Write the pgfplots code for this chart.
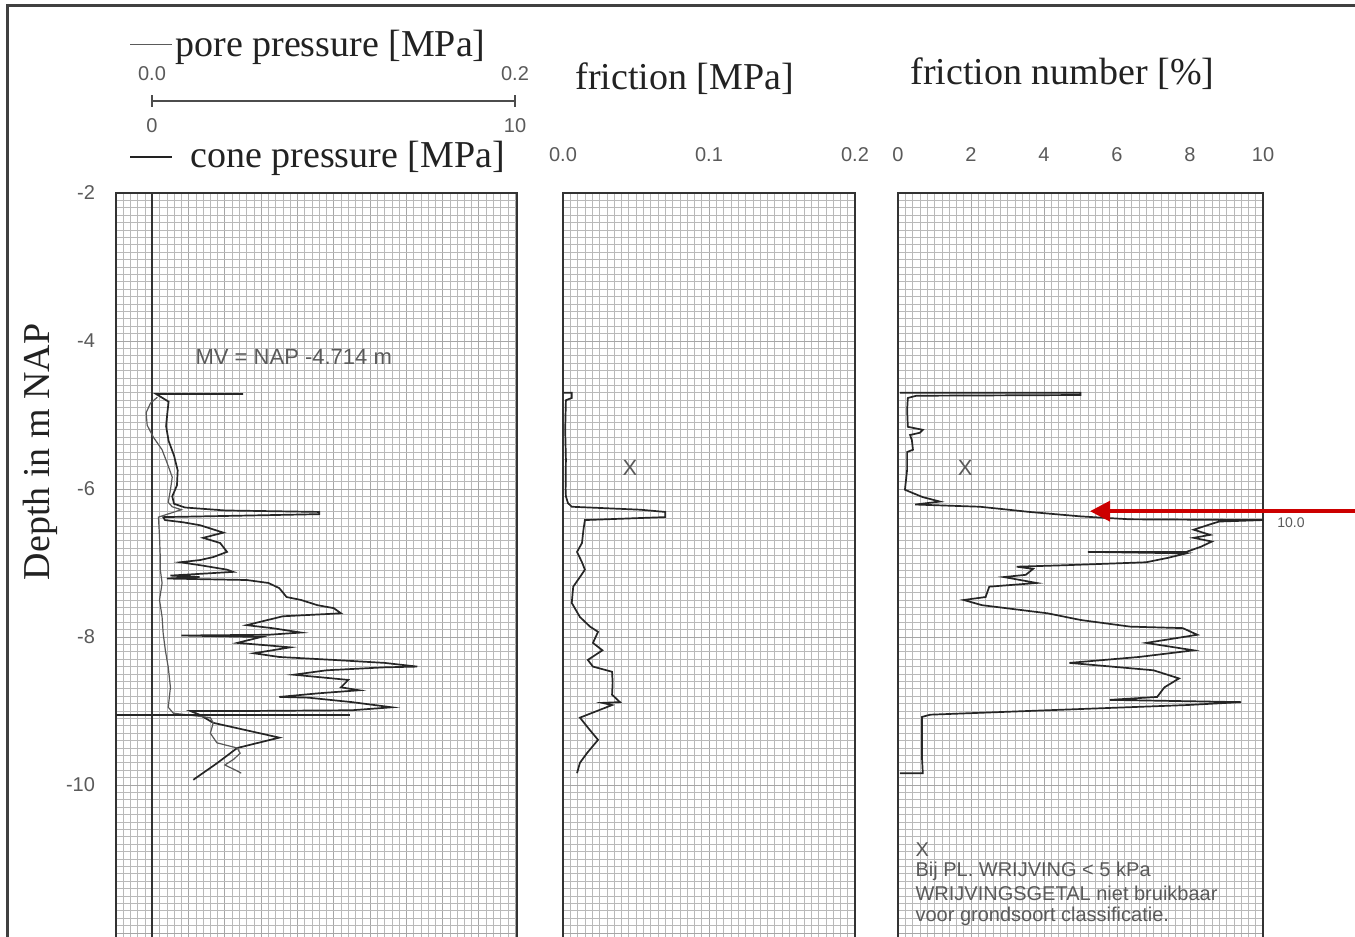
\documentclass[border=0pt]{standalone}
\usepackage{pgfplots}
\pgfplotsset{compat=1.18}
\usepackage{fontspec}
\setmainfont{Liberation Sans}
\newfontfamily\serif{Liberation Serif}
\usetikzlibrary{arrows.meta}
\definecolor{textgray}{HTML}{5A5A5A}
\definecolor{inkblack}{HTML}{222222}
\definecolor{arrowred}{HTML}{CC0000}
\newcommand{\ttl}{\serif\fontsize{19}{22}\selectfont\color{inkblack}}
\newcommand{\lbl}{\fontsize{10}{12}\selectfont\color{textgray}}
\pgfplotsset{
  panel/.style={
    scale only axis,
    anchor=north west,
    height=381.1pt,
    ymin=-12.3, ymax=-2,
    ytick={-12,-10,-8,-6,-4,-2},
    minor y tick num=19,
    grid=both,
    minor grid style={gray!55, line width=0.3pt},
    major grid style={gray!70, line width=0.45pt},
    major tick length=0pt, minor tick length=0pt,
    axis line style={black!80, line width=1.4pt},
    tick label style={font=\lbl},
    xticklabel pos=upper,
    xticklabel style={yshift=12pt},
    yticklabel style={anchor=east, xshift=-7pt},
    clip=false,
  },
  cone/.style={black!85, line width=0.85pt},
  pore/.style={black!65, line width=0.6pt},
}
\begin{document}
\begin{tikzpicture}
\useasboundingbox (0,0) rectangle (677.5pt,468.5pt);
\clip (0,0) rectangle (677.5pt,468.5pt);
\fill[white] (0,0) rectangle (677.5pt,468.5pt);
% outer frame
\draw[black!75, line width=1.5pt] (3.5pt,0) -- (3.5pt,465.5pt) -- (677.5pt,465.5pt);

% header of panel 1
\draw[textgray, line width=0.5pt] (65pt,446pt) -- (86pt,446pt);
\node[anchor=base west, inner sep=0pt] at (87.5pt,440pt) {\ttl pore pressure [MPa]};
\node[font=\lbl] at (76pt,431.5pt) {0.0};
\node[font=\lbl] at (257.5pt,431.5pt) {0.2};
\draw[black!70, line width=0.6pt] (76pt,418pt) -- (257.5pt,418pt);
\draw[black!70, line width=0.6pt] (76pt,415pt) -- (76pt,421pt);
\draw[black!70, line width=0.6pt] (257.5pt,415pt) -- (257.5pt,421pt);
\node[font=\lbl] at (76pt,405.5pt) {0};
\node[font=\lbl] at (257.5pt,405.5pt) {10};
\draw[inkblack, line width=0.6pt] (65pt,390pt) -- (86pt,390pt);
\node[anchor=base west, inner sep=0pt] at (95pt,384.5pt) {\ttl cone pressure [MPa]};
\node[anchor=base west, inner sep=0pt] at (287.5pt,423.5pt) {\ttl friction [MPa]};
\node[anchor=base west, inner sep=0pt] at (455pt,426pt) {\ttl friction number [\%]};
\node[rotate=90] at (20pt,242.5pt) {\ttl Depth in m NAP};

% panel 1: cone pressure and pore pressure
\begin{axis}[panel, at={(58pt,372pt)}, width=200.5pt,
  xmin=-1, xmax=10.05, xtick={-1,0,...,10}, minor x tick num=4, xticklabels={},
  yticklabels={,-10,-8,-6,-4,-2}]
\draw[black!80, line width=1.1pt] (axis cs:0,-12.3) -- (axis cs:0,-2);
\addplot[cone] coordinates {
(2.5,-4.715) (0.1,-4.715) (0.25,-4.76) (0.45,-4.82) (0.42,-4.95) (0.38,-5.15)
(0.45,-5.35) (0.6,-5.55) (0.7,-5.75) (0.68,-5.95) (0.55,-6.1) (0.6,-6.2)
(0.9,-6.25) (2.0,-6.29) (4.6,-6.31) (4.6,-6.34) (2.5,-6.36) (0.3,-6.38)
(0.35,-6.42) (0.85,-6.45) (1.32,-6.49) (1.96,-6.59) (1.4,-6.66) (1.87,-6.73)
(2.06,-6.85) (1.68,-6.92) (1.32,-6.96) (0.77,-6.99) (1.32,-7.03) (2.06,-7.09)
(2.23,-7.12) (1.2,-7.15) (0.5,-7.17) (1.3,-7.19) (0.4,-7.21) (2.6,-7.23)
(3.2,-7.27) (3.5,-7.34) (3.7,-7.46) (4.1,-7.5) (4.55,-7.57) (5.0,-7.61)
(5.2,-7.68) (3.6,-7.72) (2.6,-7.84) (3.3,-7.88) (4.1,-7.94) (3.2,-7.97)
(0.8,-7.98) (3.0,-8.0) (2.34,-8.08) (3.1,-8.11) (3.8,-8.14) (2.8,-8.22)
(3.5,-8.27) (5.0,-8.31) (6.4,-8.35) (7.3,-8.40) (6.4,-8.41) (4.8,-8.45)
(3.9,-8.51) (5.4,-8.58) (5.2,-8.68) (5.7,-8.72) (4.6,-8.76) (3.5,-8.81)
(4.3,-8.82) (5.5,-8.88) (6.6,-8.95) (5.5,-8.99) (2.6,-9.0) (1.05,-9.0)
(1.3,-9.05) (1.68,-9.16) (2.5,-9.25) (3.5,-9.36) (2.34,-9.50) (1.8,-9.7)
(1.13,-9.93)};
\addplot[pore, x filter/.expression={50*x}] coordinates {
(0.0028,-4.76) (-0.001,-4.84) (-0.0034,-4.97) (-0.0028,-5.14) (0.0006,-5.30)
(0.0054,-5.47) (0.0082,-5.65) (0.011,-5.84) (0.010,-6.01) (0.0088,-6.18)
(0.011,-6.24) (0.016,-6.28) (0.0034,-6.38) (0.004,-6.65) (0.0044,-6.92)
(0.0044,-7.09) (0.0054,-7.27) (0.004,-7.5) (0.0054,-7.73) (0.006,-7.95)
(0.0072,-8.18) (0.0088,-8.41) (0.010,-8.68) (0.0088,-8.95) (0.0116,-9.03)
(0.032,-9.09) (0.0336,-9.16) (0.032,-9.30) (0.0356,-9.43) (0.0468,-9.50)
(0.0484,-9.57) (0.045,-9.65) (0.040,-9.73) (0.046,-9.80) (0.049,-9.84)};
\addplot[cone] coordinates {(-1,-9.05) (5.45,-9.05)};
\node[anchor=west, font=\fontsize{11}{13}\selectfont\color{textgray}] at (axis cs:1.0,-4.22) {MV = NAP -4.714 m};
\end{axis}

% panel 2: friction
\begin{axis}[panel, at={(281.5pt,372pt)}, width=146pt,
  xmin=0, xmax=0.2, xtick={0,0.1,0.2}, minor x tick num=19,
  xticklabels={0.0,0.1,0.2}, yticklabels={}]
\addplot[cone] coordinates {
(0.0005,-4.70) (0.006,-4.70) (0.006,-4.77) (0.002,-4.80) (0.0015,-5.2)
(0.002,-5.6) (0.0018,-6.0) (0.002,-6.1) (0.0034,-6.19) (0.006,-6.24)
(0.053,-6.28) (0.070,-6.31) (0.070,-6.38) (0.015,-6.42) (0.014,-6.55)
(0.013,-6.73) (0.0096,-6.85) (0.013,-6.99) (0.015,-7.09) (0.0116,-7.19)
(0.007,-7.32) (0.006,-7.54) (0.0116,-7.73) (0.0185,-7.86) (0.024,-7.93)
(0.0205,-8.08) (0.027,-8.18) (0.017,-8.31) (0.0205,-8.40) (0.0336,-8.47)
(0.034,-8.62) (0.0336,-8.78) (0.039,-8.88) (0.027,-8.89) (0.0336,-8.92)
(0.0116,-9.09) (0.0185,-9.26) (0.024,-9.39) (0.0164,-9.57) (0.0116,-9.70)
(0.0096,-9.84)};
\node[font=\fontsize{11}{13}\selectfont\color{textgray}] at (axis cs:0.0459,-5.72) {X};
\end{axis}

% panel 3: friction number
\begin{axis}[panel, at={(449pt,372pt)}, width=182.5pt,
  xmin=0, xmax=10, xtick={0,2,...,10}, minor x tick num=9,
  xticklabels={0,2,4,6,8,10}, yticklabels={}]
\addplot[cone] coordinates {
(0.05,-4.70) (5.0,-4.70) (5.0,-4.73) (0.5,-4.74) (0.27,-4.77) (0.25,-4.93)
(0.27,-5.16) (0.68,-5.20) (0.6,-5.24) (0.33,-5.27) (0.38,-5.34) (0.41,-5.47)
(0.25,-5.5) (0.25,-5.74) (0.19,-6.01) (0.38,-6.05) (0.68,-6.11) (1.15,-6.17)
(0.47,-6.21) (2.25,-6.24) (3.6,-6.31) (5.0,-6.37) (6.36,-6.41) (10.0,-6.42)
(8.8,-6.44) (8.6,-6.47) (8.1,-6.55) (8.55,-6.62) (8.1,-6.66) (8.6,-6.71)
(8.3,-6.78) (7.9,-6.85) (5.2,-6.85) (7.9,-6.87) (7.4,-6.93) (6.8,-6.99)
(4.6,-7.03) (3.25,-7.05) (3.7,-7.08) (3.5,-7.16) (2.9,-7.19) (3.8,-7.27)
(2.5,-7.32) (2.4,-7.46) (1.8,-7.50) (2.3,-7.57) (4.1,-7.68) (5.0,-7.77)
(6.36,-7.86) (7.8,-7.88) (8.2,-7.97) (6.8,-8.08) (8.1,-8.18) (6.6,-8.27)
(4.7,-8.35) (7.0,-8.45) (7.7,-8.56) (7.3,-8.68) (7.1,-8.81) (5.8,-8.85)
(9.4,-8.88) (7.9,-8.92) (4.1,-8.99) (0.88,-9.05) (0.66,-9.08) (0.66,-9.66)
(0.68,-9.84) (0.05,-9.84)};
\node[font=\fontsize{11}{13}\selectfont\color{textgray}] at (axis cs:1.84,-5.72) {X};
\node[anchor=west, font=\fontsize{7}{8}\selectfont\color{textgray}] at (axis cs:10.2,-6.46) {10.0};
\begin{scope}[every node/.style={anchor=west, inner sep=0pt, font=\fontsize{10}{12}\selectfont\color{textgray}}]
\node at (axis cs:0.47,-10.87) {X};
\node at (axis cs:0.47,-11.17) {Bij PL. WRIJVING < 5 kPa};
\node at (axis cs:0.47,-11.47) {WRIJVINGSGETAL niet bruikbaar};
\node at (axis cs:0.47,-11.77) {voor grondsoort classificatie.};
\end{scope}
\draw[arrowred, line width=1.7pt, -{Triangle[length=10pt,width=10pt]}] (axis cs:12.7,-6.30) -- (axis cs:5.26,-6.30);
\end{axis}
\end{tikzpicture}
\end{document}
